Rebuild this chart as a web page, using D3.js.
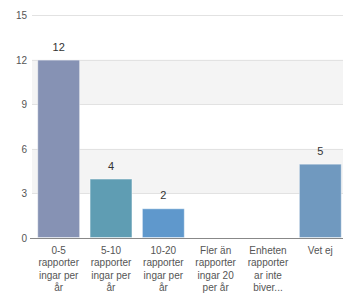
<!DOCTYPE html>
<html>
<head>
<meta charset="utf-8">
<script src="https://cdn.jsdelivr.net/npm/d3@7"></script>
<style>
  body { margin: 0; background: #fff; }
  svg { font-family: "Liberation Sans", Arial, sans-serif; }
</style>
</head>
<body>
<div id="chart"></div>
<script>
const categories = [
  ["0-5", "rapporter", "ingar per", "år"],
  ["5-10", "rapporter", "ingar per", "år"],
  ["10-20", "rapporter", "ingar per", "år"],
  ["Fler än", "rapporter", "ingar 20", "per år"],
  ["Enheten", "rapporter", "ar inte", "biver..."],
  ["Vet ej"]
];
const values = [12, 4, 2, 0, 0, 5];
const colors = ["#8692b4", "#5f9db3", "#5f98cc", "#6a8fb5", "#6a8fb5", "#7099bf"];
const yTicks = [0, 3, 6, 9, 12, 15];

const width = 343, height = 293;
const svg = d3.select('#chart').append('svg')
  .attr('width', width)
  .attr('height', height);

const x = d3.scaleBand()
  .domain(d3.range(categories.length))
  .range([32, 347])
  .paddingInner(0.18)
  .paddingOuter(0.1);

const y = d3.scaleLinear()
  .domain([0, 15])
  .range([238, 15]);

// alternating bands
for (let i = 1; i < yTicks.length - 1; i += 2) {
  svg.append('rect')
    .attr('x', 32)
    .attr('y', y(yTicks[i + 1]))
    .attr('width', width - 32)
    .attr('height', y(yTicks[i]) - y(yTicks[i + 1]))
    .attr('fill', yTicks[i] === 3 || yTicks[i] === 9 ? '#f4f4f4' : 'none');
}

// gridlines
svg.selectAll('.grid')
  .data(yTicks.slice(1))
  .join('line')
  .attr('class', 'grid')
  .attr('x1', 32).attr('x2', width)
  .attr('y1', d => Math.round(y(d)) + 0.5)
  .attr('y2', d => Math.round(y(d)) + 0.5)
  .attr('stroke', '#e2e2e2');

// y labels
svg.selectAll('.ylab')
  .data(yTicks)
  .join('text')
  .attr('class', 'ylab')
  .attr('x', 27)
  .attr('y', d => y(d) + 4)
  .attr('text-anchor', 'end')
  .attr('font-size', 10)
  .attr('fill', '#555')
  .text(d => d);

// bars
svg.selectAll('.bar')
  .data(values)
  .join('rect')
  .attr('class', 'bar')
  .attr('x', (d, i) => x(i) + 0.5)
  .attr('y', d => y(d) + 0.5)
  .attr('width', x.bandwidth() - 1)
  .attr('height', d => Math.max(0, y(0) - y(d) - 1))
  .attr('fill', (d, i) => colors[i])
  .attr('stroke', 'rgba(255,255,255,0.45)')
  .style('display', d => d > 0 ? null : 'none');

// value labels
svg.selectAll('.val')
  .data(values)
  .join('text')
  .attr('class', 'val')
  .attr('x', (d, i) => x(i) + x.bandwidth() / 2)
  .attr('y', d => y(d) - 9)
  .attr('text-anchor', 'middle')
  .attr('font-size', 11)
  .attr('fill', '#333')
  .text(d => d > 0 ? d : '');

// baseline
svg.append('line')
  .attr('x1', 30).attr('x2', width)
  .attr('y1', y(0) + 0.5).attr('y2', y(0) + 0.5)
  .attr('stroke', '#888');

// x labels
const xl = svg.selectAll('.xlab')
  .data(categories)
  .join('text')
  .attr('class', 'xlab')
  .attr('text-anchor', 'middle')
  .attr('font-size', 10)
  .attr('fill', '#555')
  .attr('y', 254);

xl.selectAll('tspan')
  .data((d, i) => d.map(t => ({ t, i })))
  .join('tspan')
  .attr('x', d => x(d.i) + x.bandwidth() / 2)
  .attr('dy', (d, j) => j === 0 ? 0 : 12.3)
  .text(d => d.t);
</script>
</body>
</html>
